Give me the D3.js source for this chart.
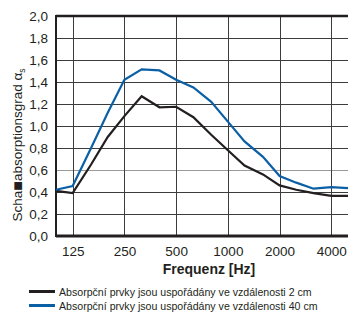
<!DOCTYPE html>
<html>
<head>
<meta charset="utf-8">
<script src="https://cdn.jsdelivr.net/npm/d3@7"></script>
<style>
  body { margin: 0; background: #fff; }
  text { font-family: "Liberation Sans", Arial, sans-serif; }
</style>
</head>
<body>
<div id="chart"></div>
<script>
// third-octave frequencies
var freqs = [100, 125, 160, 200, 250, 315, 400, 500, 630, 800, 1000, 1250, 1600, 2000, 2500, 3150, 4000, 5000];
var values2cm = [0.41, 0.39, 0.65, 0.90, 1.09, 1.27, 1.17, 1.175, 1.08, 0.92, 0.78, 0.64, 0.56, 0.46, 0.42, 0.39, 0.365, 0.365];
var values40cm = [0.42, 0.455, 0.80, 1.12, 1.42, 1.515, 1.505, 1.42, 1.35, 1.22, 1.04, 0.86, 0.72, 0.545, 0.485, 0.43, 0.445, 0.435];
var xTicks = [125, 250, 500, 1000, 2000, 4000];
var yTicks = [0, 0.2, 0.4, 0.6, 0.8, 1.0, 1.2, 1.4, 1.6, 1.8, 2.0];
var legendLabels = [
    "Absorpční prvky jsou uspořádány ve vzdálenosti 2 cm",
    "Absorpční prvky jsou uspořádány ve vzdálenosti 40 cm"
];
var colors = ["#231f20", "#0b5fa5"];

var svgWidth = 348;
var svgHeight = 312;
var margin = { top: 16, right: 0, bottom: 76, left: 56 };
var width = svgWidth - margin.left - margin.right;
var height = svgHeight - margin.top - margin.bottom;

var svg = d3.select("#chart")
    .append("svg")
    .attr("width", svgWidth)
    .attr("height", svgHeight);

var chartGroup = svg.append("g")
    .attr("transform", `translate(${margin.left}, ${margin.top})`);

var xScale = d3.scaleLog()
    .domain([100, 5000])
    .range([0, width]);

var yScale = d3.scaleLinear()
    .domain([0, 2])
    .range([height, 0]);

// grid lines
chartGroup.append("g")
    .selectAll("line")
    .data(yTicks.slice(1, -1))
    .enter()
    .append("line")
    .attr("x1", 0)
    .attr("x2", width)
    .attr("y1", d => Math.round(yScale(d)) + 0.5)
    .attr("y2", d => Math.round(yScale(d)) + 0.5)
    .attr("stroke", d => Math.abs(d - 0.6) < 1e-6 ? "#9a9a9a" : "#3c3c3c")
    .attr("stroke-width", 1);

chartGroup.append("g")
    .selectAll("line")
    .data(xTicks)
    .enter()
    .append("line")
    .attr("x1", d => Math.round(xScale(d)) + 0.5)
    .attr("x2", d => Math.round(xScale(d)) + 0.5)
    .attr("y1", 0)
    .attr("y2", height)
    .attr("stroke", "#3c3c3c")
    .attr("stroke-width", 1);

// axes
var bottomAxis = d3.axisBottom(xScale)
    .tickValues(xTicks)
    .tickFormat(d3.format("d"))
    .tickSize(0)
    .tickPadding(10);
var leftAxis = d3.axisLeft(yScale)
    .tickValues(yTicks)
    .tickFormat(d => d.toFixed(1).replace(".", ","))
    .tickSize(0)
    .tickPadding(8);

var xAxis = chartGroup.append("g")
    .attr("transform", `translate(0, ${height})`)
    .call(bottomAxis);
var yAxis = chartGroup.append("g")
    .call(leftAxis);

[xAxis, yAxis].forEach(function(ax) {
    ax.select(".domain").remove();
    ax.selectAll("text")
        .attr("font-size", "13.5px")
        .attr("fill", "#231f20")
        .style("font-family", "'Liberation Sans', Arial, sans-serif");
});

// frame lines
chartGroup.append("line")
    .attr("x1", 0).attr("x2", width)
    .attr("y1", height).attr("y2", height)
    .attr("stroke", "#231f20").attr("stroke-width", 3);
chartGroup.append("line")
    .attr("x1", 0).attr("x2", width)
    .attr("y1", 0).attr("y2", 0)
    .attr("stroke", "#231f20").attr("stroke-width", 2.5);
chartGroup.append("line")
    .attr("x1", 0).attr("x2", 0)
    .attr("y1", -1).attr("y2", height + 1)
    .attr("stroke", "#231f20").attr("stroke-width", 2);

// series lines
var line = d3.line()
    .x(d => xScale(d[0]))
    .y(d => yScale(d[1]));

[values2cm, values40cm].forEach(function(vals, i) {
    chartGroup.append("path")
        .datum(freqs.map((f, j) => [f, vals[j]]))
        .attr("fill", "none")
        .attr("stroke", colors[i])
        .attr("stroke-width", 2.2)
        .attr("stroke-linejoin", "miter")
        .attr("d", line);
});

// x axis label
svg.append("text")
    .attr("x", 209)
    .attr("y", 274)
    .attr("text-anchor", "middle")
    .attr("font-size", "14px")
    .attr("font-weight", "bold")
    .attr("fill", "#231f20")
    .text("Frequenz [Hz]");

// y axis label
var yLabel = svg.append("text")
    .attr("transform", "translate(22, 145) rotate(-90)")
    .attr("text-anchor", "middle")
    .attr("font-size", "13.5px")
    .attr("fill", "#231f20");
yLabel.append("tspan").text("Scha");
yLabel.append("tspan").attr("font-size", "16px").attr("dy", 1).text("■");
yLabel.append("tspan").attr("dy", -1).text("absorptionsgrad α");
yLabel.append("tspan").attr("font-size", "8.5px").attr("dy", 3).text("s");

// legend
var legend = svg.append("g");
legendLabels.forEach(function(label, i) {
    var ly = 291.5 + i * 14;
    legend.append("line")
        .attr("x1", 29).attr("x2", 55)
        .attr("y1", ly).attr("y2", ly)
        .attr("stroke", colors[i])
        .attr("stroke-width", 3);
    legend.append("text")
        .attr("x", 59)
        .attr("y", ly + 4)
        .attr("font-size", "10.6px")
        .attr("fill", "#231f20")
        .text(label);
});
</script>
</body>
</html>
